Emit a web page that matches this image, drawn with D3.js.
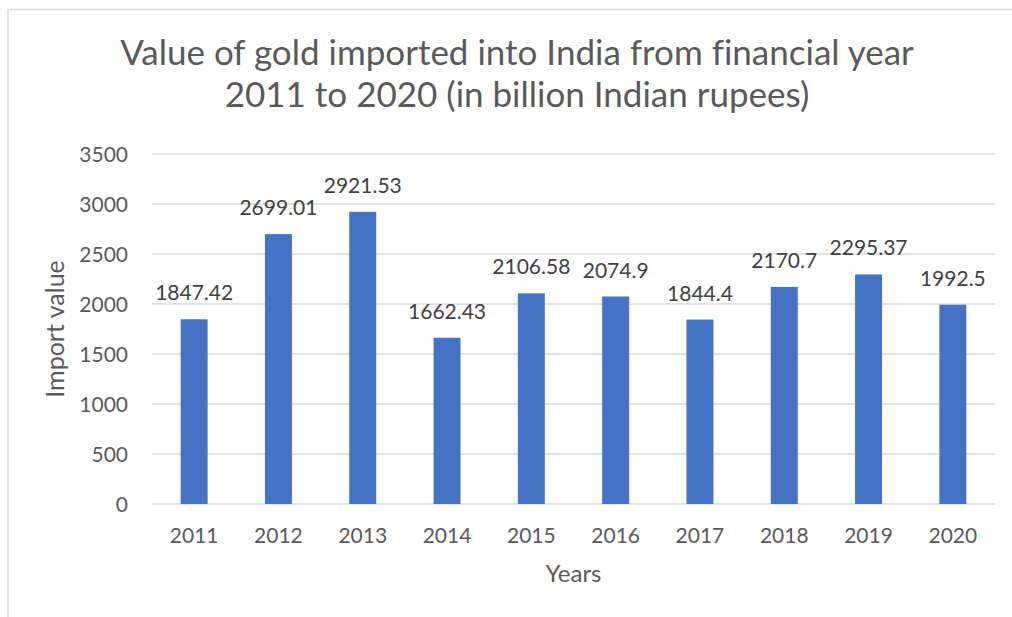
<!DOCTYPE html>
<html lang="en">
  <head>
    <meta charset="UTF-8" />
    <title>Value of gold imported into India</title>
    <script src="https://d3js.org/d3.v7.min.js"></script>
    <style>
      body {
        margin: 0;
        background: white;
        font-family: Lato, 'Open Sans', sans-serif;
        font-variant-ligatures: none;
      }
      svg {
        display: block;
      }
    </style>
  </head>
  <body>
    <svg width="1012" height="617"></svg>

    <script>
      const years = ['2011', '2012', '2013', '2014', '2015', '2016', '2017', '2018', '2019', '2020'];
      const importValues = [1847.42, 2699.01, 2921.53, 1662.43, 2106.58, 2074.9, 1844.4, 2170.7, 2295.37, 1992.5];
      const yTicks = [0, 500, 1000, 1500, 2000, 2500, 3000, 3500];
      const titleLines = [
        'Value of gold imported into India from financial year',
        '2011 to 2020 (in billion Indian rupees)',
      ];

      const data = years.map((y, i) => ({ year: y, value: importValues[i] }));

      const margin = { top: 154, right: 17, bottom: 113, left: 152 },
        width = 1012 - margin.left - margin.right,
        height = 617 - margin.top - margin.bottom;

      const root = d3.select('svg');

      // chart frame (runs off the right and bottom of the picture)
      root
        .append('rect')
        .attr('x', 8)
        .attr('y', 9.5)
        .attr('width', 1100)
        .attr('height', 700)
        .attr('fill', 'white')
        .attr('stroke', '#d9d9d9')
        .attr('stroke-width', 1.5);

      const title = root
        .append('text')
        .attr('text-anchor', 'middle')
        .attr('fill', '#595959')
        .style('font-size', '35px');
      titleLines.forEach((t, i) => {
        title
          .append('tspan')
          .attr('x', 517)
          .attr('y', 65 + i * 42)
          .text(t);
      });

      const svg = root
        .append('g')
        .attr('transform', `translate(${margin.left},${margin.top})`);

      const x = d3.scaleBand().domain(years).range([0, width]);

      const y = d3.scaleLinear().domain([0, 3500]).range([height, 0]);

      const barW = x.bandwidth() * 0.32;

      // gridlines
      svg
        .append('g')
        .selectAll('line')
        .data(yTicks)
        .join('line')
        .attr('x1', 0)
        .attr('x2', width)
        .attr('y1', (d) => y(d))
        .attr('y2', (d) => y(d))
        .attr('stroke', '#d9d9d9')
        .attr('stroke-width', 1.5);

      // y tick labels
      svg
        .append('g')
        .selectAll('text')
        .data(yTicks)
        .join('text')
        .attr('x', -24)
        .attr('y', (d) => y(d))
        .attr('dy', '0.36em')
        .attr('text-anchor', 'end')
        .attr('fill', '#595959')
        .style('font-size', '21px')
        .text((d) => d);

      // bars
      svg
        .selectAll('rect.bar')
        .data(data)
        .join('rect')
        .attr('class', 'bar')
        .attr('x', (d) => x(d.year) + (x.bandwidth() - barW) / 2)
        .attr('y', (d) => y(d.value))
        .attr('width', barW)
        .attr('height', (d) => height - y(d.value))
        .attr('fill', '#4472c4');

      // data labels
      svg
        .selectAll('text.label')
        .data(data)
        .join('text')
        .attr('class', 'label')
        .attr('x', (d) => x(d.year) + x.bandwidth() / 2)
        .attr('y', (d) => y(d.value) - 19)
        .attr('text-anchor', 'middle')
        .attr('fill', '#404040')
        .style('font-size', '21px')
        .text((d) => d.value);

      // x tick labels
      svg
        .append('g')
        .selectAll('text')
        .data(years)
        .join('text')
        .attr('x', (d) => x(d) + x.bandwidth() / 2)
        .attr('y', height + 39)
        .attr('text-anchor', 'middle')
        .attr('fill', '#595959')
        .style('font-size', '21px')
        .text((d) => d);

      svg
        .append('text')
        .attr('x', width / 2)
        .attr('y', height + 78)
        .attr('text-anchor', 'middle')
        .attr('fill', '#595959')
        .style('font-size', '24px')
        .text('Years');

      svg
        .append('text')
        .attr('transform', 'rotate(-90)')
        .attr('x', -height / 2)
        .attr('y', -88)
        .attr('text-anchor', 'middle')
        .attr('fill', '#595959')
        .style('font-size', '25px')
        .text('Import value');
    </script>
  </body>
</html>
